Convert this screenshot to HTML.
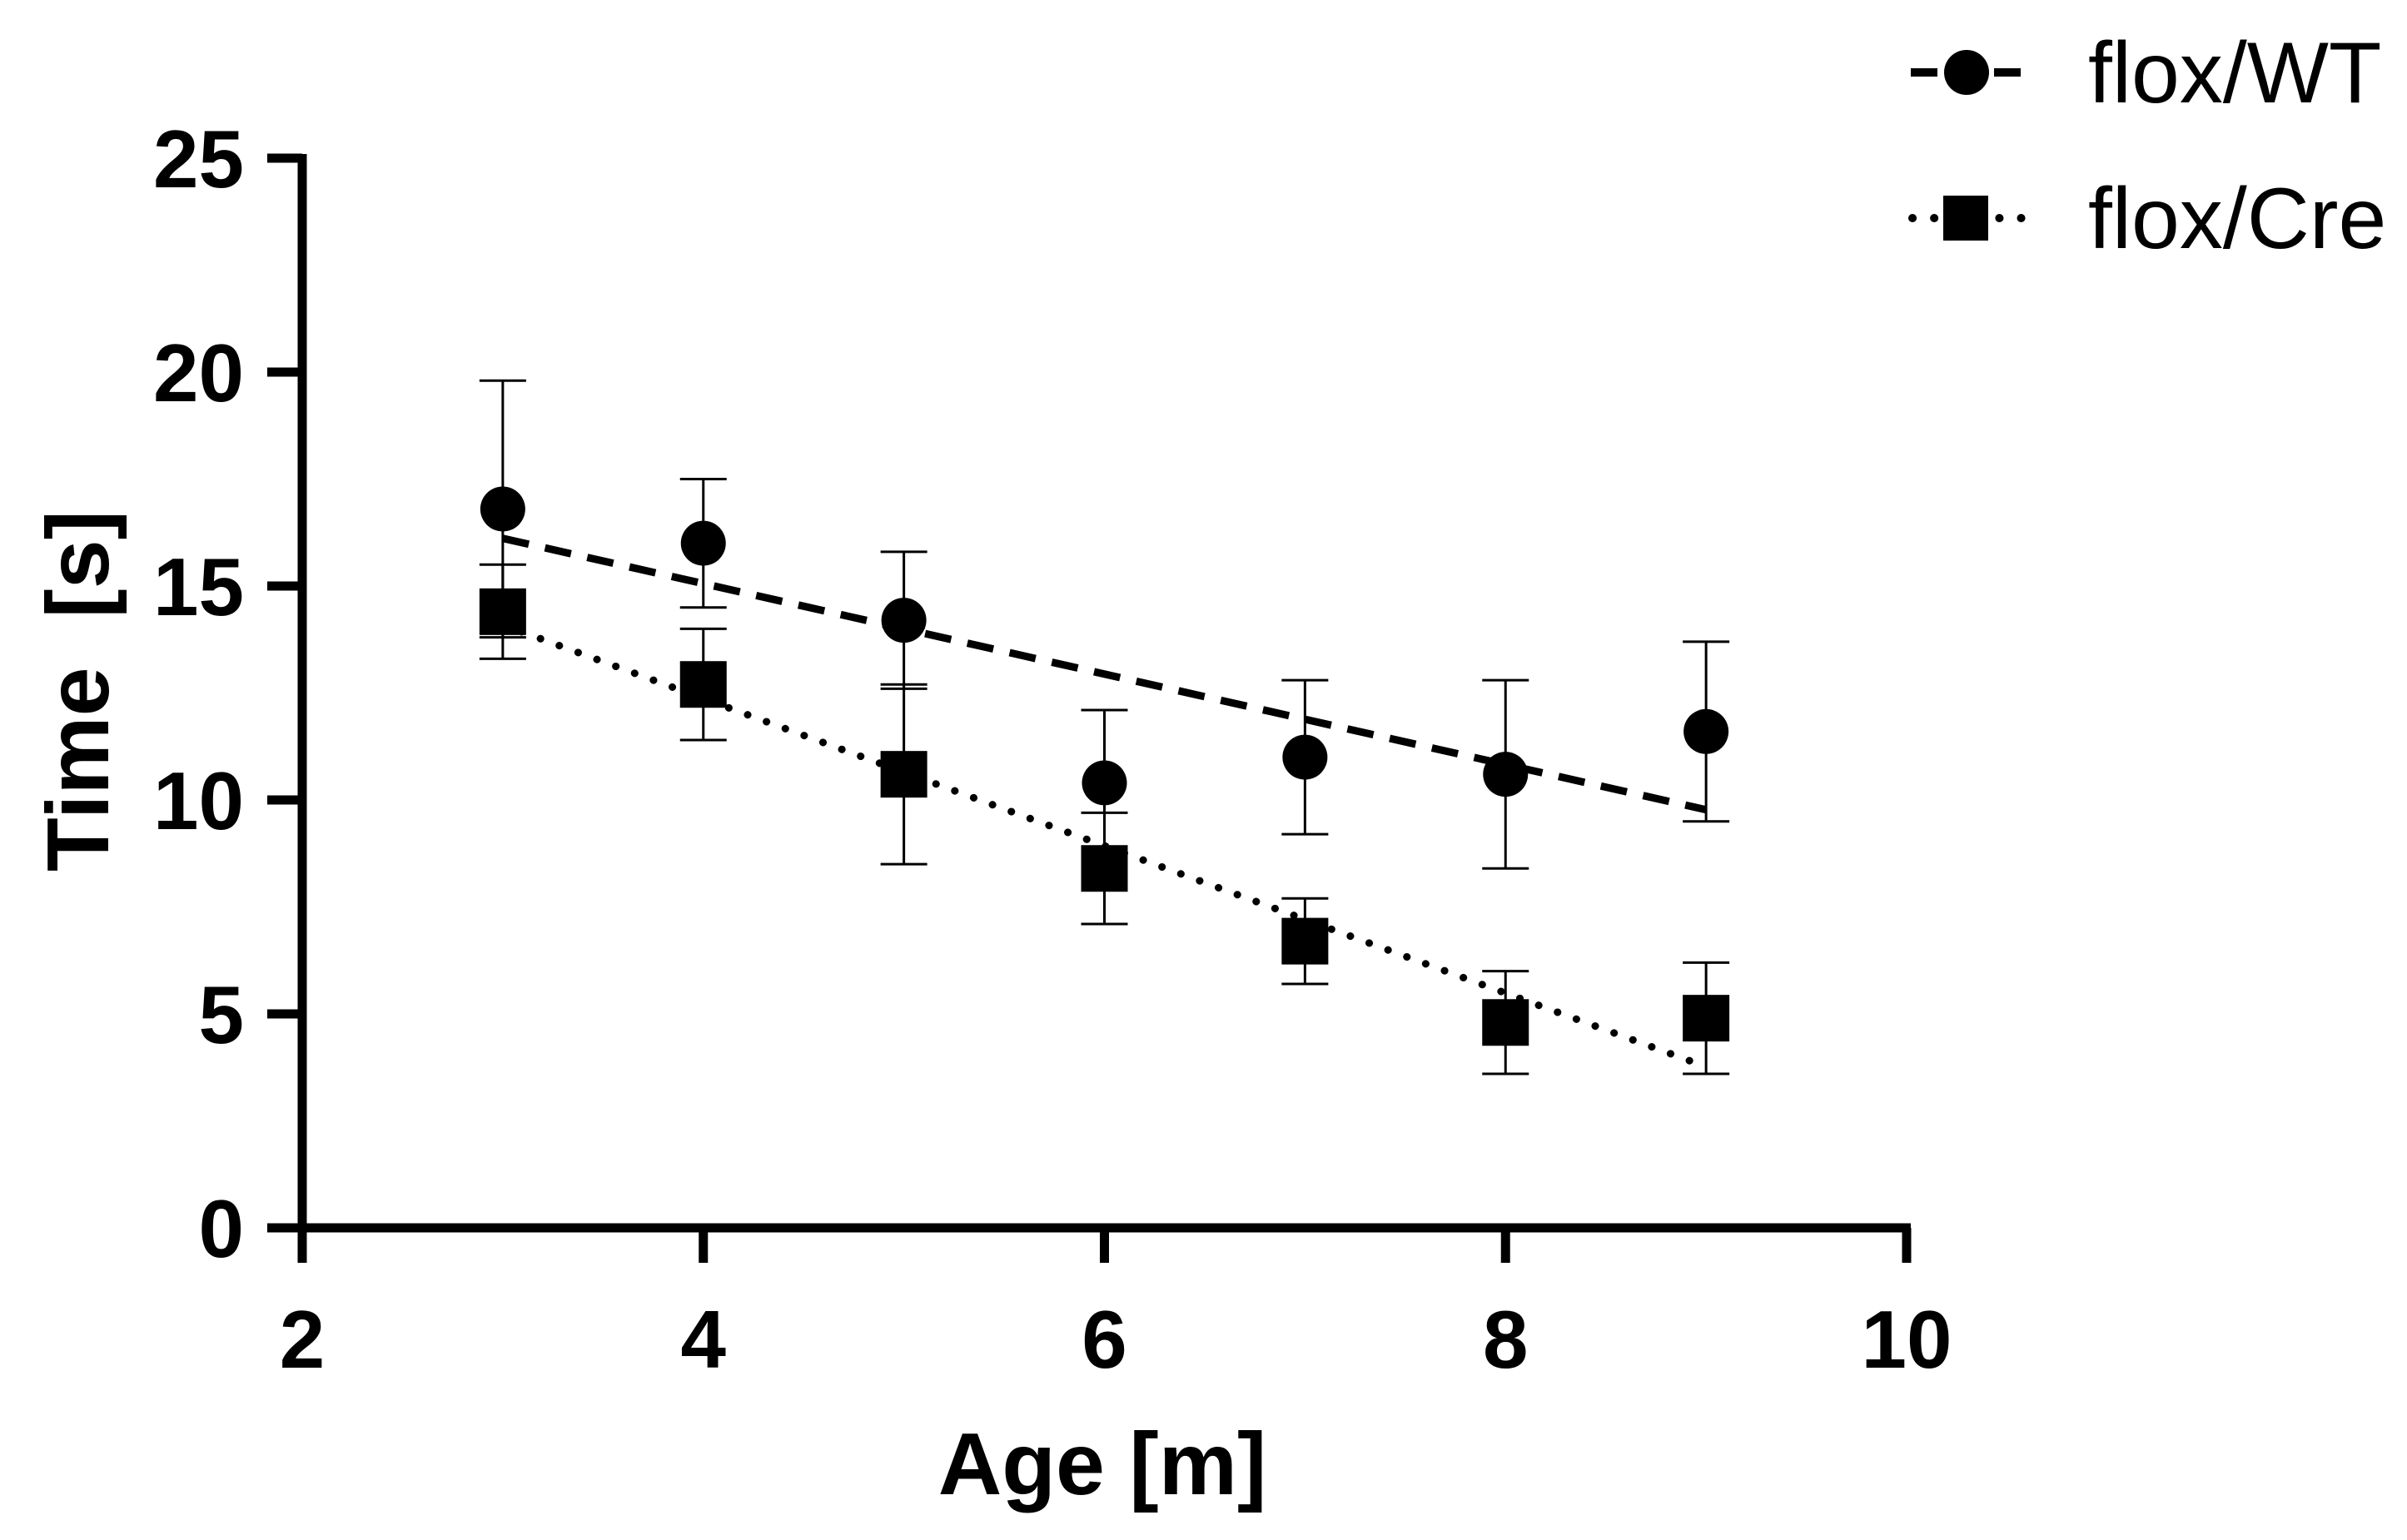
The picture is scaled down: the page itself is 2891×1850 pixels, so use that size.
<!DOCTYPE html>
<html><head><meta charset="utf-8"><style>
html,body{margin:0;padding:0;background:#fff;}
svg{display:block;font-family:"Liberation Sans",Arial,sans-serif;}
</style></head><body>
<svg id="chart" width="2891" height="1850" viewBox="0 0 2891 1850" xmlns="http://www.w3.org/2000/svg">
<g id="axes"></g>
<g id="marks"></g>
<g id="legend">
  <line x1="2295" y1="87" x2="2440" y2="87" stroke="#000" stroke-width="10" stroke-dasharray="32,18"/>
  <circle cx="2362" cy="87" r="27" fill="#000"/>
  <text x="2508" y="123" font-size="104">flox/WT</text>
  <line x1="2297" y1="262" x2="2440" y2="262" stroke="#000" stroke-width="10" stroke-linecap="round" stroke-dasharray="0.1,26"/>
  <rect x="2334" y="235" width="54" height="54" fill="#000"/>
  <text x="2508" y="298" font-size="104">flox/Cre</text>
</g>
</svg>
<script>
const ages=[3,4,5,6,7,8,9];
const wtMean=[16.8,16.0,14.2,10.4,11.0,10.6,11.6];
const wtErr=[3.0,1.5,1.6,1.7,1.8,2.2,2.1];
const creMean=[14.4,12.7,10.6,8.4,6.7,4.8,4.9];
const creErr=[1.1,1.3,2.1,1.3,1.0,1.2,1.3];
const xTicks=[2,4,6,8,10];
const yTicks=[0,5,10,15,20,25];

const X0=363,X1=2290,Y0=1475,Y1=190;
const xs=v=>X0+(v-2)/8*(X1-X0);
const ys=v=>Y0-v/25*(Y0-Y1);
const NS="http://www.w3.org/2000/svg";
function mk(parent,tag,attrs){const e=document.createElementNS(NS,tag);for(const k in attrs)e.setAttribute(k,attrs[k]);parent.appendChild(e);return e;}
const axes=document.getElementById('axes'),marks=document.getElementById('marks');

let e;
e=mk(axes,'line',{x1:X0-5,y1:Y0,x2:X1+5,y2:Y0,stroke:'#000','stroke-width':11});


e=mk(axes,'line',{x1:X0,y1:Y0+5,x2:X0,y2:Y1-5,stroke:'#000','stroke-width':11});


xTicks.forEach(t=>{
  e=mk(axes,'line',{x1:xs(t),y1:Y0,x2:xs(t),y2:Y0+42,stroke:'#000','stroke-width':11});
  
  
  e=mk(axes,'text',{x:xs(t),y:Y0+168,'font-size':98,'font-weight':'bold','text-anchor':'middle'});
  e.textContent=t;
  
  
});
yTicks.forEach(t=>{
  e=mk(axes,'line',{x1:X0-42,y1:ys(t),x2:X0,y2:ys(t),stroke:'#000','stroke-width':11});
  
  
  e=mk(axes,'text',{x:X0-70,y:ys(t)+35,'font-size':98,'font-weight':'bold','text-anchor':'end'});
  e.textContent=t;
  
  
});
e=mk(axes,'text',{x:1324,y:1795,'font-size':106,'font-weight':'bold','text-anchor':'middle'});
e.textContent='Age [m]';


e=mk(axes,'text',{x:0,y:0,'font-size':106,'font-weight':'bold','text-anchor':'middle','transform':'translate(130,830) rotate(-90)'});
e.textContent='Time\u00a0\u00a0[s]';



function fit(x,y){const n=x.length,mx=x.reduce((a,b)=>a+b)/n,my=y.reduce((a,b)=>a+b)/n;let sxy=0,sxx=0;for(let i=0;i<n;i++){sxy+=(x[i]-mx)*(y[i]-my);sxx+=(x[i]-mx)**2;}const b=sxy/sxx;return [my-b*mx,b];}
function series(mean,err,name,dash,square,cap){
  const [a,b]=fit(ages,mean);
  const x0=ages[0],x1=ages[ages.length-1];
  let l=mk(marks,'line',{x1:xs(x0),y1:ys(a+b*x0),x2:xs(x1),y2:ys(a+b*x1),stroke:'#000','stroke-width':9,'stroke-dasharray':dash,'stroke-linecap':cap});
  
  
  ages.forEach((ag,i)=>{
    const cx=xs(ag),m=mean[i],d=err[i];
    const g=mk(marks,'g',{});
    
    
    mk(g,'line',{x1:cx,y1:ys(m+d),x2:cx,y2:ys(m-d),stroke:'#000','stroke-width':3});
    mk(g,'line',{x1:cx-28,y1:ys(m+d),x2:cx+28,y2:ys(m+d),stroke:'#000','stroke-width':3});
    mk(g,'line',{x1:cx-28,y1:ys(m-d),x2:cx+28,y2:ys(m-d),stroke:'#000','stroke-width':3});
    let p;
    if(square)p=mk(marks,'rect',{x:cx-28,y:ys(m)-28,width:56,height:56,fill:'#000'});
    else p=mk(marks,'circle',{cx:cx,cy:ys(m),r:27,fill:'#000'});
    
    
  });
}
series(wtMean,wtErr,'flox-wt','32,20',false,'butt');
series(creMean,creErr,'flox-cre','0.1,24',true,'round');
</script>
</body></html>
